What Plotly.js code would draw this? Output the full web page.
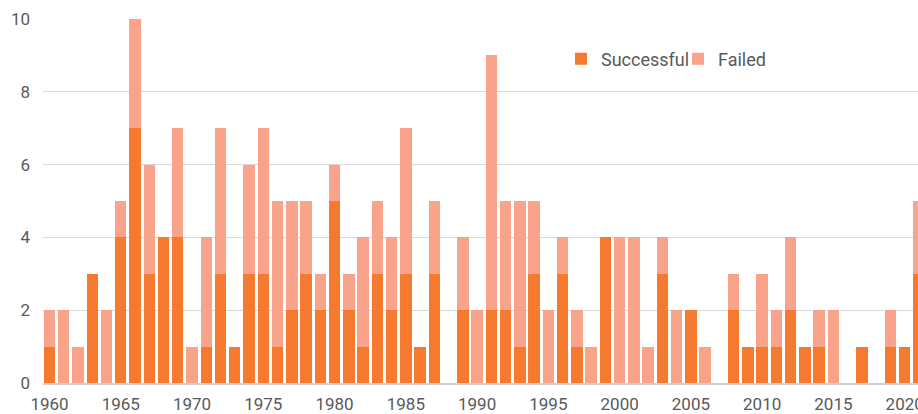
<!DOCTYPE html>
<html>
<head>
<meta charset="utf-8">
<script src="https://cdn.plot.ly/plotly-3.0.1.min.js"></script>
<style>html,body{margin:0;padding:0;background:#fff;}#chart{width:918px;height:414px;}</style>
</head>
<body>
<div id="chart"></div>
<script>
const years = [1960,1961,1962,1963,1964,1965,1966,1967,1968,1969,
  1970,1971,1972,1973,1974,1975,1976,1977,1978,1979,
  1980,1981,1982,1983,1984,1985,1986,1987,1988,1989,
  1990,1991,1992,1993,1994,1995,1996,1997,1998,1999,
  2000,2001,2002,2003,2004,2005,2006,2007,2008,2009,
  2010,2011,2012,2013,2014,2015,2016,2017,2018,2019,
  2020,2021];
const successful = [1,0,0,3,0,4,7,3,4,4,
  0,1,3,1,3,3,1,2,3,2,
  5,2,1,3,2,3,1,3,0,2,
  0,2,2,1,3,0,3,1,0,4,
  0,0,0,3,0,2,0,0,2,1,
  1,1,2,1,1,0,0,1,0,1,
  1,3];
const failed = [1,2,1,0,2,1,3,3,0,3,
  1,3,4,0,3,4,4,3,2,1,
  1,1,3,2,2,4,0,2,0,2,
  2,7,3,4,2,2,1,1,1,0,
  4,4,1,1,2,0,1,0,1,0,
  2,1,2,0,1,2,0,0,0,1,
  0,2];
const yTicks = [0,2,4,6,8,10];
const xTicks = [1960,1965,1970,1975,1980,1985,1990,1995,2000,2005,2010,2015,2020];

const font = {family: 'Roboto, "Liberation Sans", sans-serif', color: '#595959'};
const data = [
  {type:'bar', name:'Successful', x:years, y:successful,
   marker:{color:'#F57A30', line:{width:0}}},
  {type:'bar', name:'Failed', x:years, y:failed,
   marker:{color:'#F9A38A', line:{width:0}}}
];
const layout = {
  width:918, height:414,
  barmode:'stack', bargap:0.2,
  margin:{l:43, r:0, t:19, b:31, pad:0},
  paper_bgcolor:'#fff', plot_bgcolor:'#fff',
  font: Object.assign({size:16}, font),
  showlegend:true,
  legend:{orientation:'h', traceorder:'normal', x:0.592, y:0.89, xanchor:'left', yanchor:'middle',
    font:Object.assign({size:18}, font), entrywidth:72, bgcolor:'rgba(0,0,0,0)'},
  xaxis:{range:[1959.544, 2020.933], tickmode:'array', tickvals:xTicks, ticktext:xTicks.map(String),
    showgrid:false, zeroline:false, showline:true, linecolor:'#d0d0d0', linewidth:1.5,
    ticks:'', ticklabelstandoff:5, ticklabeloverflow:'allow',
    tickfont:Object.assign({size:17}, font), fixedrange:true},
  yaxis:{range:[0,10], tickmode:'array', tickvals:yTicks, ticktext:yTicks.map(String),
    showgrid:true, gridcolor:'#d9d9d9', gridwidth:1, zeroline:false, showline:false,
    ticks:'', ticklabelstandoff:12, tickfont:Object.assign({size:17}, font), fixedrange:true}
};
Plotly.newPlot('chart', data, layout, {displayModeBar:false, staticPlot:true});
</script>
</body>
</html>
